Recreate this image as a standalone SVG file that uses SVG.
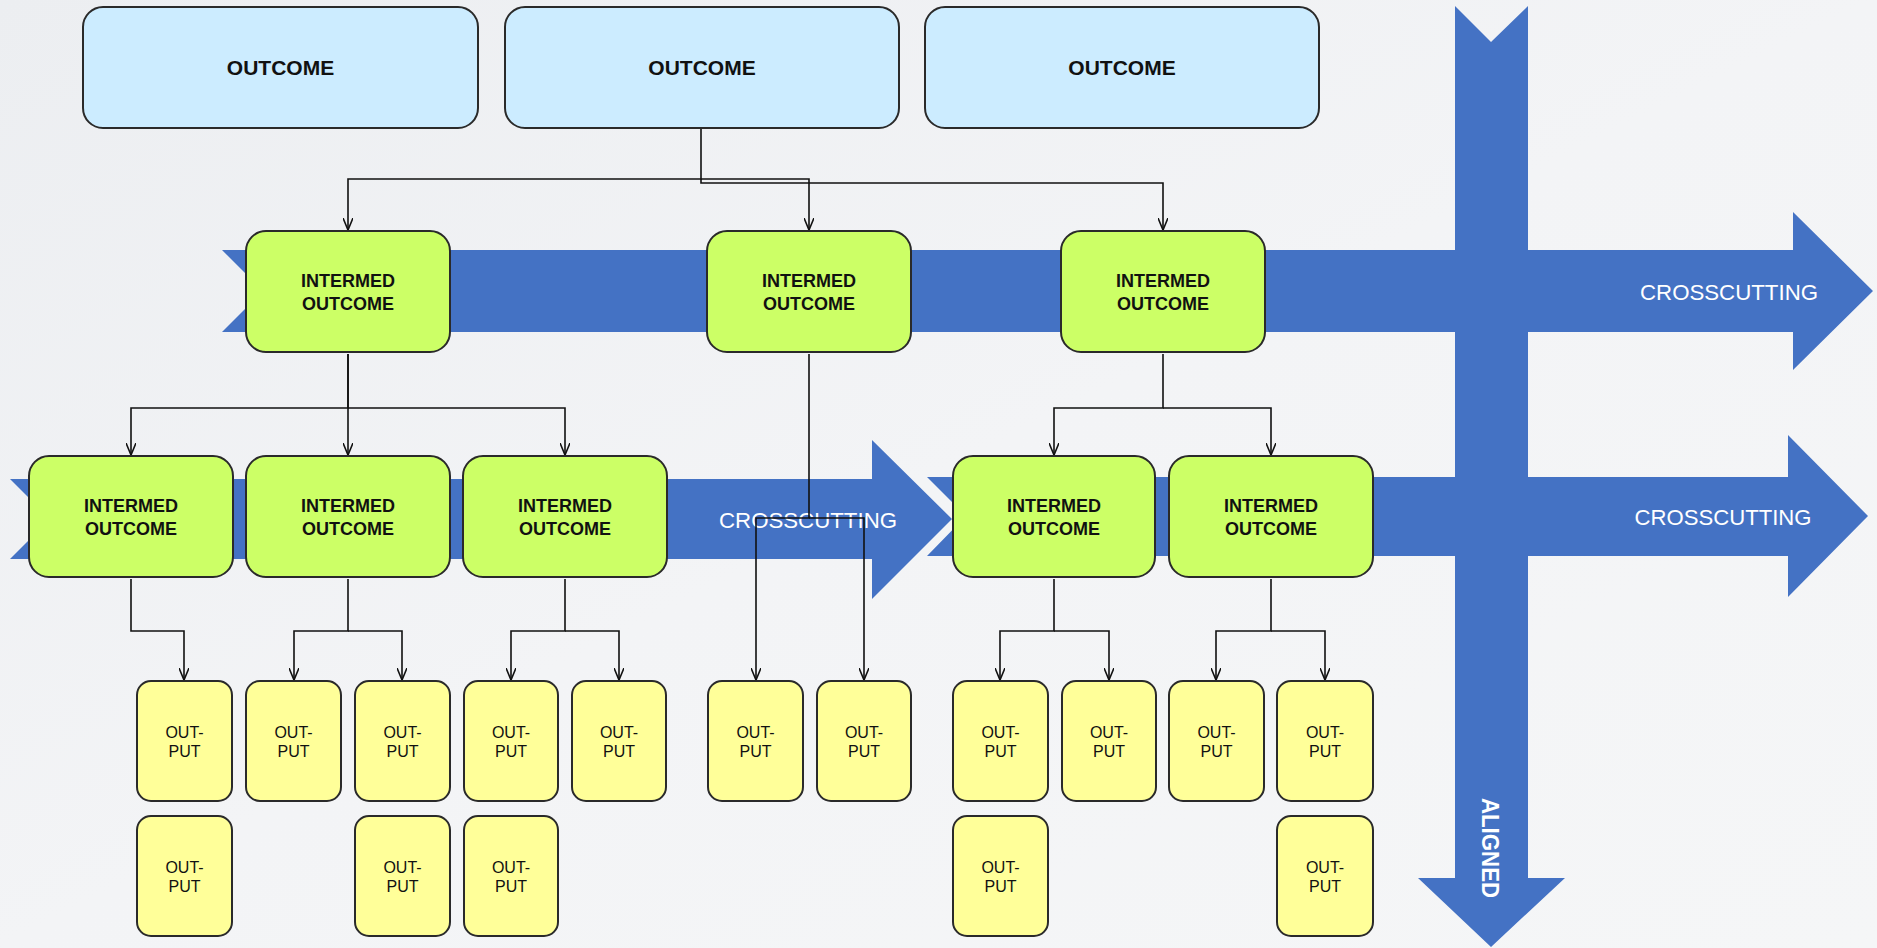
<svg xmlns="http://www.w3.org/2000/svg" width="1877" height="948" viewBox="0 0 1877 948">
<style>
  .band { fill: #4472C4; }
  .outcome rect { fill: #CCECFF; stroke: #2a2a2a; stroke-width: 2; }
  .inter rect { fill: #CCFF66; stroke: #2a2a2a; stroke-width: 2; }
  .out rect { fill: #FFFF99; stroke: #2a2a2a; stroke-width: 2; }
  .t { font-family: "Liberation Sans", Arial, sans-serif; text-anchor: middle; fill: #111; }
  .t1 { font-size: 21px; font-weight: bold; }
  .t2 { font-size: 18px; font-weight: bold; }
  .t3 { font-size: 16px; }
  .cc { font-family: "Liberation Sans", Arial, sans-serif; font-size: 22px; fill: #ffffff; text-anchor: middle; }
  .al { font-family: "Liberation Sans", Arial, sans-serif; font-size: 24px; font-weight: bold; fill: #ffffff; text-anchor: middle; }
  .conn path { fill: none; stroke: #111; stroke-width: 1.6; }
</style>
<defs>
  <linearGradient id="bg" x1="0" y1="0" x2="1" y2="1">
    <stop offset="0" stop-color="#eceef1"/>
    <stop offset="0.5" stop-color="#f3f4f6"/>
    <stop offset="1" stop-color="#f5f6f7"/>
  </linearGradient>
  <marker id="arr" viewBox="0 0 12 10" refX="12" refY="5" markerWidth="12" markerHeight="10" markerUnits="userSpaceOnUse" orient="auto">
    <path d="M0,0 L12,5 L0,10" fill="none" stroke="#111" stroke-width="1.6"/>
  </marker>
</defs>
<rect x="0" y="0" width="1877" height="948" fill="url(#bg)"/>

<g id="bands">
  <path class="band" d="M222,250 H1793 V212 L1873,291 L1793,370 V332 H222 L263,291 Z"/>
  <path class="band" d="M10,479 H872 V440 L952,519 L872,599 V559 H10 L50,519 Z"/>
  <path class="band" d="M927,477 H1788 V435 L1868,516 L1788,597 V556 H927 L966,516 Z"/>
  <path class="band" d="M1455,6 L1491,42 L1528,6 V878 H1565 L1491,947 L1418,878 H1455 Z"/>
  <text class="cc" x="1729" y="300" textLength="178" lengthAdjust="spacingAndGlyphs">CROSSCUTTING</text>
  <text class="cc" x="808" y="528" textLength="178" lengthAdjust="spacingAndGlyphs">CROSSCUTTING</text>
  <text class="cc" x="1723" y="525" textLength="177" lengthAdjust="spacingAndGlyphs">CROSSCUTTING</text>
  <text class="al" transform="translate(1482,848) rotate(90)" x="0" y="0" textLength="100" lengthAdjust="spacingAndGlyphs">ALIGNED</text>
</g>

<g class="conn" id="connectors">
  <path d="M701,128 V179 H348 V230" marker-end="url(#arr)"/>
  <path d="M701,179 H809 V230" marker-end="url(#arr)"/>
  <path d="M701,179 V183 H1163 V230" marker-end="url(#arr)"/>
  <path d="M348,354 V408 H131 V455" marker-end="url(#arr)"/>
  <path d="M348,354 V455" marker-end="url(#arr)"/>
  <path d="M348,408 H565 V455" marker-end="url(#arr)"/>
  <path d="M1163,354 V408 H1054 V455" marker-end="url(#arr)"/>
  <path d="M1163,408 H1271 V455" marker-end="url(#arr)"/>
  <path d="M809,354 V518 H756 V680" marker-end="url(#arr)"/>
  <path d="M809,518 H864 V680" marker-end="url(#arr)"/>
  <path d="M131,579 V631 H184 V680" marker-end="url(#arr)"/>
  <path d="M348,579 V631 H294 V680" marker-end="url(#arr)"/>
  <path d="M348,631 H402 V680" marker-end="url(#arr)"/>
  <path d="M565,579 V631 H511 V680" marker-end="url(#arr)"/>
  <path d="M565,631 H619 V680" marker-end="url(#arr)"/>
  <path d="M1054,579 V631 H1000 V680" marker-end="url(#arr)"/>
  <path d="M1054,631 H1109 V680" marker-end="url(#arr)"/>
  <path d="M1271,579 V631 H1216 V680" marker-end="url(#arr)"/>
  <path d="M1271,631 H1325 V680" marker-end="url(#arr)"/>
</g>

<g id="outcome1" class="outcome"><rect x="83" y="7" width="395" height="121" rx="20"/><text class="t t1" x="280.5" y="75">OUTCOME</text></g>
<g id="outcome2" class="outcome"><rect x="505" y="7" width="394" height="121" rx="20"/><text class="t t1" x="702" y="75">OUTCOME</text></g>
<g id="outcome3" class="outcome"><rect x="925" y="7" width="394" height="121" rx="20"/><text class="t t1" x="1122" y="75">OUTCOME</text></g>

<g id="im1" class="inter"><rect x="246" y="231" width="204" height="121" rx="20"/><text class="t t2" x="348" y="287">INTERMED</text><text class="t t2" x="348" y="310">OUTCOME</text></g>
<g id="im2" class="inter"><rect x="707" y="231" width="204" height="121" rx="20"/><text class="t t2" x="809" y="287">INTERMED</text><text class="t t2" x="809" y="310">OUTCOME</text></g>
<g id="im3" class="inter"><rect x="1061" y="231" width="204" height="121" rx="20"/><text class="t t2" x="1163" y="287">INTERMED</text><text class="t t2" x="1163" y="310">OUTCOME</text></g>

<g id="im4" class="inter"><rect x="29" y="456" width="204" height="121" rx="20"/><text class="t t2" x="131" y="512">INTERMED</text><text class="t t2" x="131" y="535">OUTCOME</text></g>
<g id="im5" class="inter"><rect x="246" y="456" width="204" height="121" rx="20"/><text class="t t2" x="348" y="512">INTERMED</text><text class="t t2" x="348" y="535">OUTCOME</text></g>
<g id="im6" class="inter"><rect x="463" y="456" width="204" height="121" rx="20"/><text class="t t2" x="565" y="512">INTERMED</text><text class="t t2" x="565" y="535">OUTCOME</text></g>
<g id="im7" class="inter"><rect x="953" y="456" width="202" height="121" rx="20"/><text class="t t2" x="1054" y="512">INTERMED</text><text class="t t2" x="1054" y="535">OUTCOME</text></g>
<g id="im8" class="inter"><rect x="1169" y="456" width="204" height="121" rx="20"/><text class="t t2" x="1271" y="512">INTERMED</text><text class="t t2" x="1271" y="535">OUTCOME</text></g>

<g id="out1" class="out"><rect x="137" y="681" width="95" height="120" rx="14"/><text class="t t3" x="184.5" y="738">OUT-</text><text class="t t3" x="184.5" y="757">PUT</text></g>
<g id="out2" class="out"><rect x="246" y="681" width="95" height="120" rx="14"/><text class="t t3" x="293.5" y="738">OUT-</text><text class="t t3" x="293.5" y="757">PUT</text></g>
<g id="out3" class="out"><rect x="355" y="681" width="95" height="120" rx="14"/><text class="t t3" x="402.5" y="738">OUT-</text><text class="t t3" x="402.5" y="757">PUT</text></g>
<g id="out4" class="out"><rect x="464" y="681" width="94" height="120" rx="14"/><text class="t t3" x="511" y="738">OUT-</text><text class="t t3" x="511" y="757">PUT</text></g>
<g id="out5" class="out"><rect x="572" y="681" width="94" height="120" rx="14"/><text class="t t3" x="619" y="738">OUT-</text><text class="t t3" x="619" y="757">PUT</text></g>
<g id="out6" class="out"><rect x="708" y="681" width="95" height="120" rx="14"/><text class="t t3" x="755.5" y="738">OUT-</text><text class="t t3" x="755.5" y="757">PUT</text></g>
<g id="out7" class="out"><rect x="817" y="681" width="94" height="120" rx="14"/><text class="t t3" x="864" y="738">OUT-</text><text class="t t3" x="864" y="757">PUT</text></g>
<g id="out8" class="out"><rect x="953" y="681" width="95" height="120" rx="14"/><text class="t t3" x="1000.5" y="738">OUT-</text><text class="t t3" x="1000.5" y="757">PUT</text></g>
<g id="out9" class="out"><rect x="1062" y="681" width="94" height="120" rx="14"/><text class="t t3" x="1109" y="738">OUT-</text><text class="t t3" x="1109" y="757">PUT</text></g>
<g id="out10" class="out"><rect x="1169" y="681" width="95" height="120" rx="14"/><text class="t t3" x="1216.5" y="738">OUT-</text><text class="t t3" x="1216.5" y="757">PUT</text></g>
<g id="out11" class="out"><rect x="1277" y="681" width="96" height="120" rx="14"/><text class="t t3" x="1325" y="738">OUT-</text><text class="t t3" x="1325" y="757">PUT</text></g>

<g id="out12" class="out"><rect x="137" y="816" width="95" height="120" rx="14"/><text class="t t3" x="184.5" y="873">OUT-</text><text class="t t3" x="184.5" y="892">PUT</text></g>
<g id="out13" class="out"><rect x="355" y="816" width="95" height="120" rx="14"/><text class="t t3" x="402.5" y="873">OUT-</text><text class="t t3" x="402.5" y="892">PUT</text></g>
<g id="out14" class="out"><rect x="464" y="816" width="94" height="120" rx="14"/><text class="t t3" x="511" y="873">OUT-</text><text class="t t3" x="511" y="892">PUT</text></g>
<g id="out15" class="out"><rect x="953" y="816" width="95" height="120" rx="14"/><text class="t t3" x="1000.5" y="873">OUT-</text><text class="t t3" x="1000.5" y="892">PUT</text></g>
<g id="out16" class="out"><rect x="1277" y="816" width="96" height="120" rx="14"/><text class="t t3" x="1325" y="873">OUT-</text><text class="t t3" x="1325" y="892">PUT</text></g>
</svg>
